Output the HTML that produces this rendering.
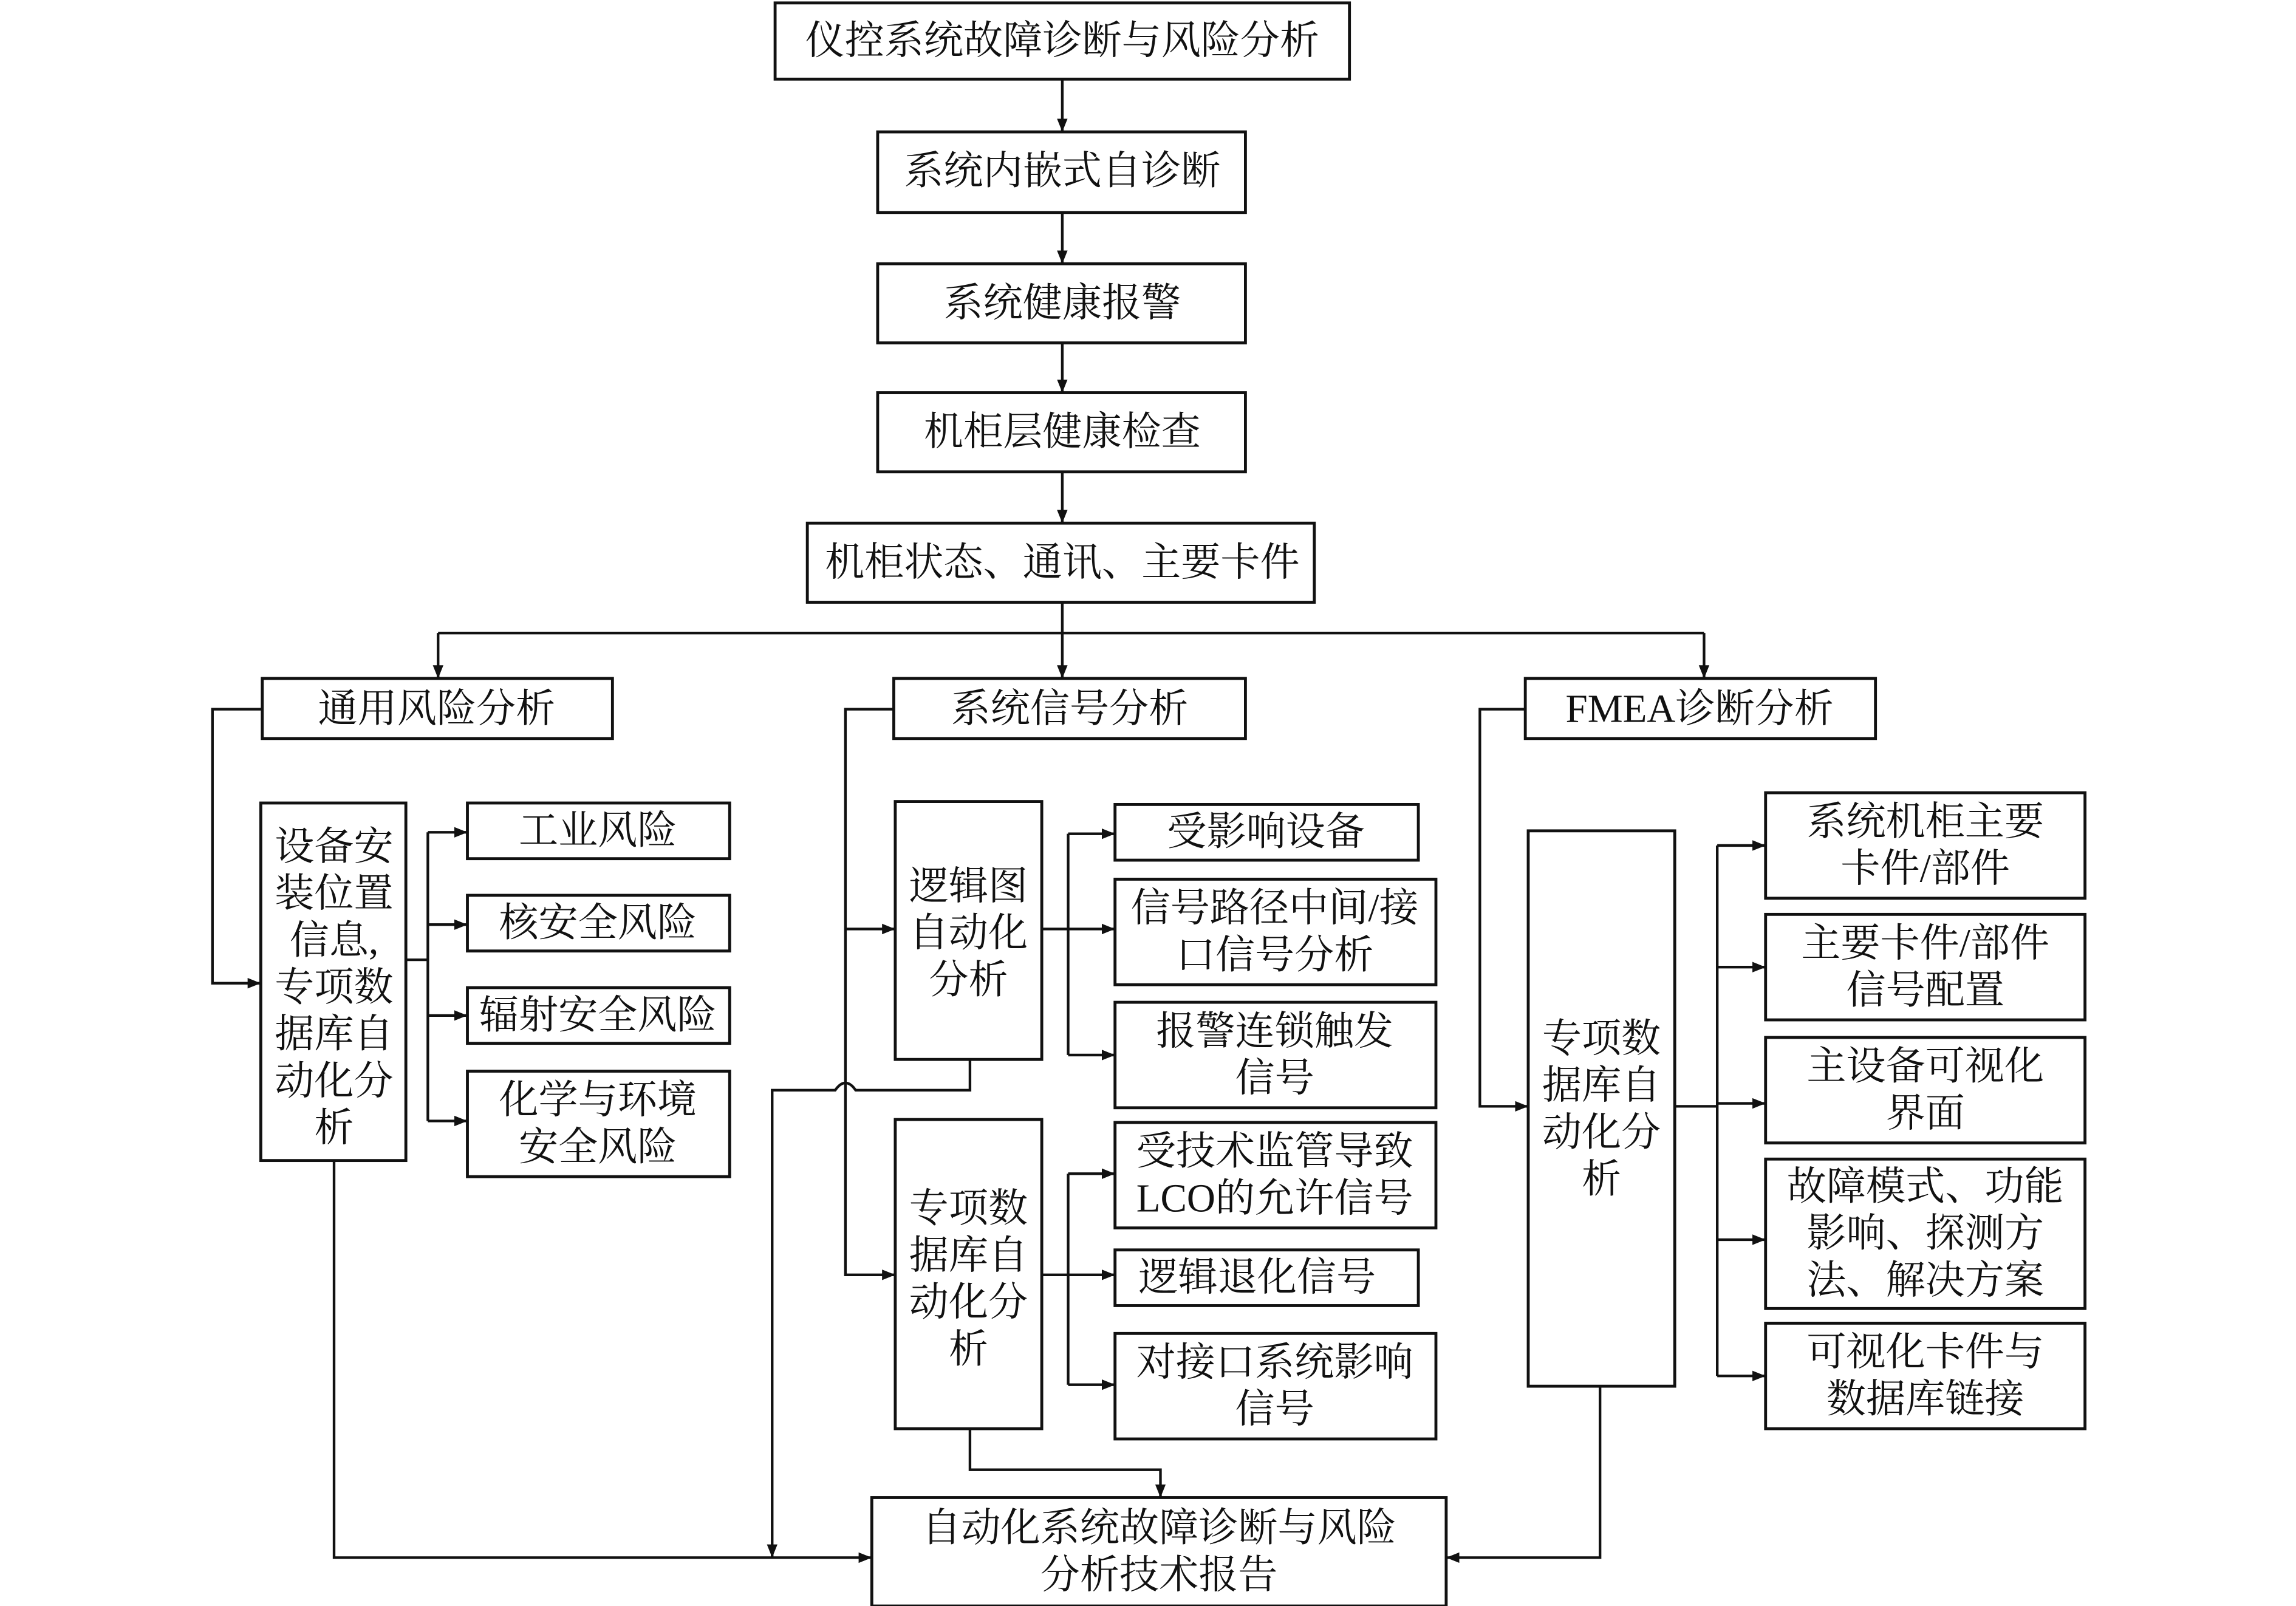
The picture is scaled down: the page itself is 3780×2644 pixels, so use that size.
<!DOCTYPE html>
<html><head><meta charset="utf-8"><style>
html,body{margin:0;padding:0;background:#fff}
svg{display:block}
text{font-family:"Liberation Serif","Noto Serif CJK SC",serif;font-size:27px;fill:#111;text-anchor:middle;dominant-baseline:central}
</style></head><body>
<svg width="3780" height="2644" viewBox="0 0 1567 1096" preserveAspectRatio="none" xmlns="http://www.w3.org/2000/svg">
<defs><marker id="a" viewBox="0 0 10 10" refX="10" refY="5" markerWidth="9" markerHeight="9" markerUnits="userSpaceOnUse" orient="auto"><path d="M0,1 L10,5 L0,9z" fill="#111"/></marker></defs>
<g fill="none" stroke="#111" stroke-width="2">
<rect x="529" y="2" width="392" height="52"/>
<rect x="599" y="90" width="251" height="55"/>
<rect x="599" y="180" width="251" height="54"/>
<rect x="599" y="268" width="251" height="54"/>
<rect x="551" y="357" width="346" height="54"/>
<rect x="179" y="463" width="239" height="41"/>
<rect x="610" y="463" width="240" height="41"/>
<rect x="1041" y="463" width="239" height="41"/>
<rect x="178" y="548" width="99" height="244"/>
<rect x="319" y="548" width="179" height="38"/>
<rect x="319" y="611" width="179" height="38"/>
<rect x="319" y="674" width="179" height="38"/>
<rect x="319" y="731" width="179" height="72"/>
<rect x="611" y="547" width="100" height="176"/>
<rect x="761" y="549" width="207" height="38"/>
<rect x="761" y="600" width="219" height="72"/>
<rect x="761" y="684" width="219" height="72"/>
<rect x="611" y="764" width="100" height="211"/>
<rect x="761" y="766" width="219" height="72"/>
<rect x="761" y="853" width="207" height="38"/>
<rect x="761" y="910" width="219" height="72"/>
<rect x="595" y="1022" width="392" height="74"/>
<rect x="1043" y="567" width="100" height="379"/>
<rect x="1205" y="541" width="218" height="72"/>
<rect x="1205" y="624" width="218" height="72"/>
<rect x="1205" y="708" width="218" height="72"/>
<rect x="1205" y="791" width="218" height="102"/>
<rect x="1205" y="903" width="218" height="72"/>
</g>
<g fill="none" stroke="#111" stroke-width="1.8">
<path d="M725,54V90" marker-end="url(#a)"/>
<path d="M725,145V180" marker-end="url(#a)"/>
<path d="M725,234V268" marker-end="url(#a)"/>
<path d="M725,322V357" marker-end="url(#a)"/>
<path d="M725,411V463" marker-end="url(#a)"/>
<path d="M299,432H1163"/>
<path d="M299,432V463" marker-end="url(#a)"/>
<path d="M1163,432V463" marker-end="url(#a)"/>
<path d="M179,484H145V671H178" marker-end="url(#a)"/>
<path d="M277,655H292"/><path d="M292,568V765"/>
<path d="M292,568H319" marker-end="url(#a)"/>
<path d="M292,631H319" marker-end="url(#a)"/>
<path d="M292,693H319" marker-end="url(#a)"/>
<path d="M292,765H319" marker-end="url(#a)"/>
<path d="M610,484H577V870H611" marker-end="url(#a)"/>
<path d="M577,634H611" marker-end="url(#a)"/>
<path d="M662,723V744H584Q577,734 570,744H527V1063" marker-end="url(#a)"/>
<path d="M711,634H729"/><path d="M729,569V720"/>
<path d="M729,569H761" marker-end="url(#a)"/>
<path d="M729,634H761" marker-end="url(#a)"/>
<path d="M729,720H761" marker-end="url(#a)"/>
<path d="M711,870H729"/><path d="M729,801V945"/>
<path d="M729,801H761" marker-end="url(#a)"/>
<path d="M729,870H761" marker-end="url(#a)"/>
<path d="M729,945H761" marker-end="url(#a)"/>
<path d="M662,975V1003H792V1022" marker-end="url(#a)"/>
<path d="M228,792V1063H595" marker-end="url(#a)"/>
<path d="M1092,946V1063H987" marker-end="url(#a)"/>
<path d="M1041,484H1010V755H1043" marker-end="url(#a)"/>
<path d="M1143,755H1172"/><path d="M1172,577V939"/>
<path d="M1172,577H1205" marker-end="url(#a)"/>
<path d="M1172,660H1205" marker-end="url(#a)"/>
<path d="M1172,753H1205" marker-end="url(#a)"/>
<path d="M1172,846H1205" marker-end="url(#a)"/>
<path d="M1172,939H1205" marker-end="url(#a)"/>
</g>
<g>
<text x="725" y="28">仪控系统故障诊断与风险分析</text>
<text x="725" y="117">系统内嵌式自诊断</text>
<text x="725" y="207">系统健康报警</text>
<text x="725" y="295">机柜层健康检查</text>
<text x="725" y="384">机柜状态、通讯、主要卡件</text>
<text x="298" y="484">通用风险分析</text>
<text x="730" y="484">系统信号分析</text>
<text x="1160" y="484">FMEA诊断分析</text>
<text x="228" y="578">设备安</text><text x="228" y="610">装位置</text><text x="228" y="642">信息,</text><text x="228" y="674">专项数</text><text x="228" y="706">据库自</text><text x="228" y="738">动化分</text><text x="228" y="770">析</text>
<text x="408" y="567">工业风险</text>
<text x="408" y="630">核安全风险</text>
<text x="408" y="693">辐射安全风险</text>
<text x="408" y="751">化学与环境</text><text x="408" y="783">安全风险</text>
<text x="661" y="605">逻辑图</text><text x="661" y="637">自动化</text><text x="661" y="669">分析</text>
<text x="864" y="568">受影响设备</text>
<text x="870" y="620">信号路径中间/接</text><text x="870" y="652">口信号分析</text>
<text x="870" y="704">报警连锁触发</text><text x="870" y="736">信号</text>
<text x="661" y="825">专项数</text><text x="661" y="857">据库自</text><text x="661" y="889">动化分</text><text x="661" y="921">析</text>
<text x="870" y="786">受技术监管导致</text><text x="870" y="818">LCO的允许信号</text>
<text x="858" y="872">逻辑退化信号</text>
<text x="870" y="930">对接口系统影响</text><text x="870" y="962">信号</text>
<text x="791" y="1043">自动化系统故障诊断与风险</text><text x="791" y="1075">分析技术报告</text>
<text x="1093" y="709">专项数</text><text x="1093" y="741">据库自</text><text x="1093" y="773">动化分</text><text x="1093" y="805">析</text>
<text x="1314" y="561">系统机柜主要</text><text x="1314" y="593">卡件/部件</text>
<text x="1314" y="644">主要卡件/部件</text><text x="1314" y="676">信号配置</text>
<text x="1314" y="728">主设备可视化</text><text x="1314" y="760">界面</text>
<text x="1314" y="810">故障模式、功能</text><text x="1314" y="842">影响、探测方</text><text x="1314" y="874">法、解决方案</text>
<text x="1314" y="923">可视化卡件与</text><text x="1314" y="955">数据库链接</text>
</g>
</svg>
</body></html>
